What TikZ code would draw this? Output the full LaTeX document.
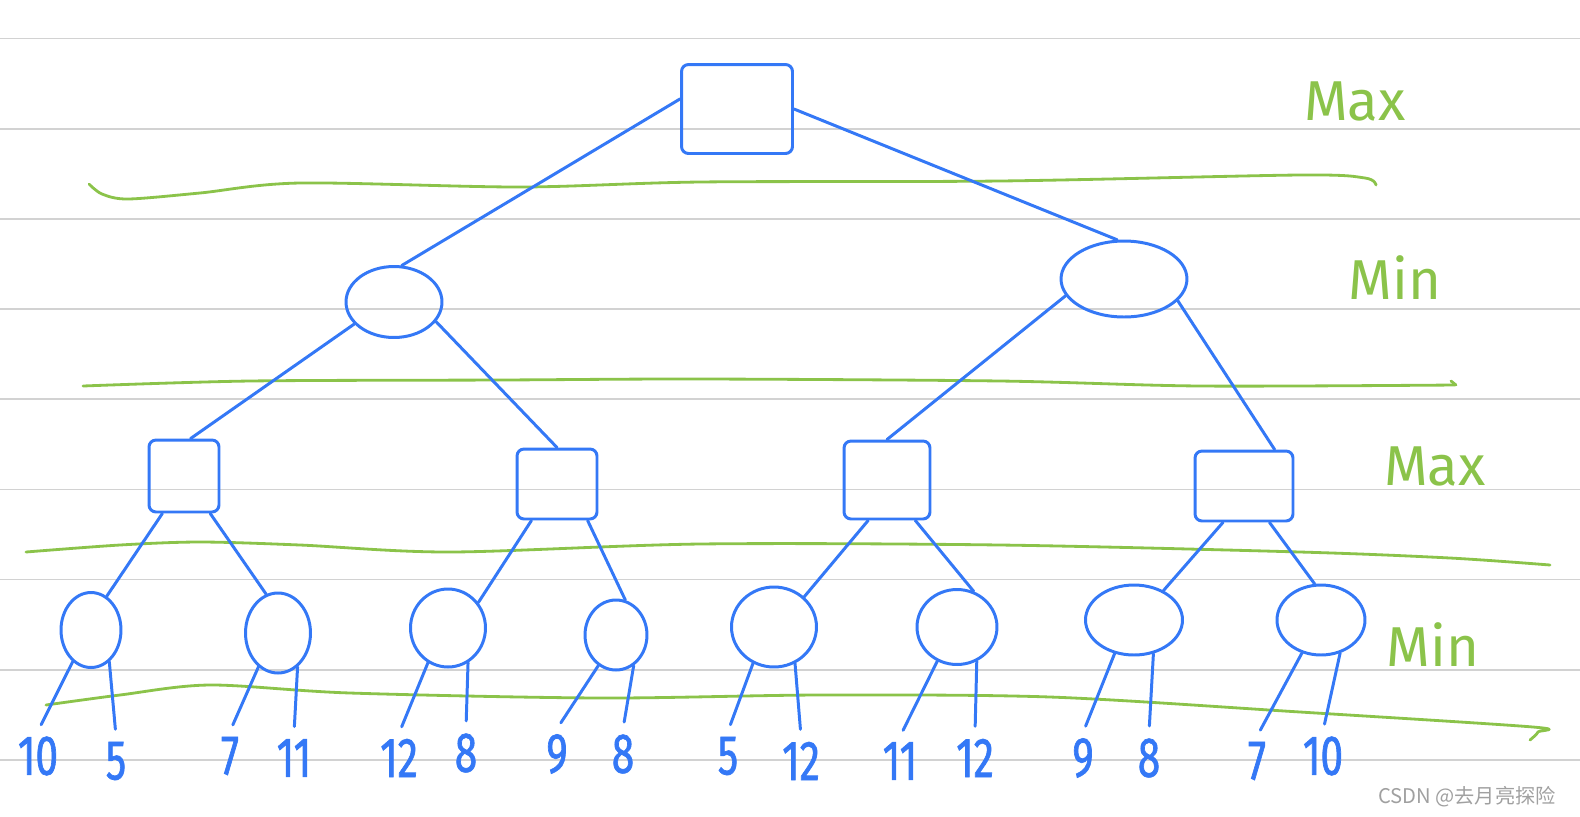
\documentclass[tikz,border=0pt]{standalone}
\usepackage{fontspec}
\setmainfont{Fira Sans}
\newfontfamily\handfont[FakeStretch=0.72, FakeBold=1.2]{Fira Sans}
\newfontfamily\cjkfont{Noto Sans CJK SC}
\usepackage{tikz}
\usetikzlibrary{shapes.geometric}
\definecolor{penblue}{RGB}{52,120,246}
\definecolor{pengreen}{RGB}{139,195,74}
\definecolor{ruleline}{RGB}{210,210,210}
\definecolor{markgray}{RGB}{160,160,160}
\tikzset{
  maxbox/.style={draw=penblue, line width=1.7pt, rounded corners=4pt, inner sep=0pt},
  minnode/.style={ellipse, draw=penblue, line width=1.7pt, inner sep=0pt},
  leaf/.style={text=penblue, font=\handfont\fontsize{32}{32}\selectfont, inner sep=3pt},
  branch/.style={draw=penblue, line width=1.7pt, line cap=round},
  levelline/.style={draw=pengreen, line width=1.6pt, line cap=round, line join=round},
  levellabel/.style={text=pengreen, font=\fontsize{32}{32}\selectfont},
  gridline/.style={draw=ruleline, line width=1.1pt}
}

\begin{document}
\begin{tikzpicture}[x=0.02cm, y=-0.02cm]
\useasboundingbox (0,0) rectangle (1580,816);
% ruled paper
\foreach \yy in {38.5,129,219,309,399,489.5,579.5,670,760}
  \draw[gridline] (0,\yy) -- (1580,\yy);

% level separators
\draw[levelline] plot[smooth] coordinates {(89,184) (102,194) (128,199) (200,193) (300,183) (520,187) (700,182) (1000,181) (1300,175) (1365,178) (1376,185)};
\draw[levelline] plot[smooth] coordinates {(83,386) (250,381) (500,380) (700,379) (1000,381) (1200,386) (1455,385)};
\draw[levelline] (1451,381) -- (1456,385);
\draw[levelline] plot[smooth] coordinates {(26,552) (120,545) (200,542) (300,545) (450,552) (700,544) (1000,545) (1300,552) (1450,558) (1550,565)};
\draw[levelline] plot[smooth] coordinates {(46,705) (120,695) (210,685) (350,693) (600,698) (820,695) (1050,697) (1300,712) (1533,727) (1538,732) (1530,740)};

% level labels
\node[levellabel] (lab1) at (1355,101) {Max};
\node[levellabel] (lab2) at (1395,278) {Min};
\node[levellabel] (lab3) at (1435,466) {Max};
\node[levellabel] (lab4) at (1433,645) {Min};

% root
\node[maxbox, minimum width=2.22cm, minimum height=1.78cm] (root) at (737,109) {};

% min level
\node[minnode, minimum width=1.92cm, minimum height=1.42cm] (minL) at (394,302) {};
\node[minnode, minimum width=2.52cm, minimum height=1.52cm] (minR) at (1124,279) {};

% max level
\node[maxbox, minimum width=1.4cm, minimum height=1.44cm] (sq1) at (184,476) {};
\node[maxbox, minimum width=1.6cm, minimum height=1.4cm] (sq2) at (557,484) {};
\node[maxbox, minimum width=1.72cm, minimum height=1.56cm] (sq3) at (887,480) {};
\node[maxbox, minimum width=1.96cm, minimum height=1.4cm] (sq4) at (1244,486) {};

% min level (bottom)
\node[minnode, minimum width=1.2cm, minimum height=1.5cm] (c1) at (91,630) {};
\node[minnode, minimum width=1.3cm, minimum height=1.6cm] (c2) at (278,633) {};
\node[minnode, minimum width=1.5cm, minimum height=1.56cm] (c3) at (448,628) {};
\node[minnode, minimum width=1.24cm, minimum height=1.4cm] (c4) at (616,635) {};
\node[minnode, minimum width=1.7cm, minimum height=1.6cm] (c5) at (774,627) {};
\node[minnode, minimum width=1.6cm, minimum height=1.5cm] (c6) at (957,627) {};
\node[minnode, minimum width=1.94cm, minimum height=1.4cm] (c7) at (1134,620) {};
\node[minnode, minimum width=1.76cm, minimum height=1.4cm] (c8) at (1321,620) {};

% leaves
\node[leaf] (v1) at (38,756) {10};
\node[leaf] (v2) at (116,761) {5};
\node[leaf] (v3) at (230,756) {7};
\node[leaf] (v4) at (294,758) {11};
\node[leaf] (v5) at (399,758) {12};
\node[leaf] (v6) at (466,753) {8};
\node[leaf] (v7) at (557,754) {9};
\node[leaf] (v8) at (623,754) {8};
\node[leaf] (v9) at (728,756) {5};
\node[leaf] (v10) at (801,761) {12};
\node[leaf] (v11) at (900,761) {11};
\node[leaf] (v12) at (975,758) {12};
\node[leaf] (v13) at (1083,758) {9};
\node[leaf] (v14) at (1149,758) {8};
\node[leaf] (v15) at (1257,761) {7};
\node[leaf] (v16) at (1323,756) {10};

% watermark
\node[text=markgray, font=\cjkfont\fontsize{11.5}{12}\selectfont, anchor=east] (mark) at (1562,797) {CSDN @去月亮探险};

% connections
\draw[branch] (root.170) -- (minL.78);
\draw[branch] (root.east) -- (minR.100);
\draw[branch] (minL.209) -- (sq1.80);
\draw[branch] (minL.-25) -- (sq2.north);
\draw[branch] (minR.196) -- (sq3.north);
\draw[branch] (minR.-22) -- (sq4.50);
\draw[branch] (sq1.240) -- (c1.65);
\draw[branch] (sq1.305) -- (c2.107);
\draw[branch] (sq2.235) -- (c3.40);
\draw[branch] (sq2.310) -- (c4.75);
\draw[branch] (sq3.245) -- (c5.45);
\draw[branch] (sq3.305) -- (c6.65);
\draw[branch] (sq4.240) -- (c7.45);
\draw[branch] (sq4.305) -- (c8.100);
\foreach \c/\a/\b in {c1/v1/v2, c2/v3/v4, c3/v5/v6, c4/v7/v8, c5/v9/v10, c6/v11/v12, c7/v13/v14, c8/v15/v16} {
  \draw[branch, shorten >=4pt] (\c.240) -- (\a.north);
  \draw[branch, shorten >=4pt] (\c.300) -- (\b.north);
}
\end{tikzpicture}
\end{document}
